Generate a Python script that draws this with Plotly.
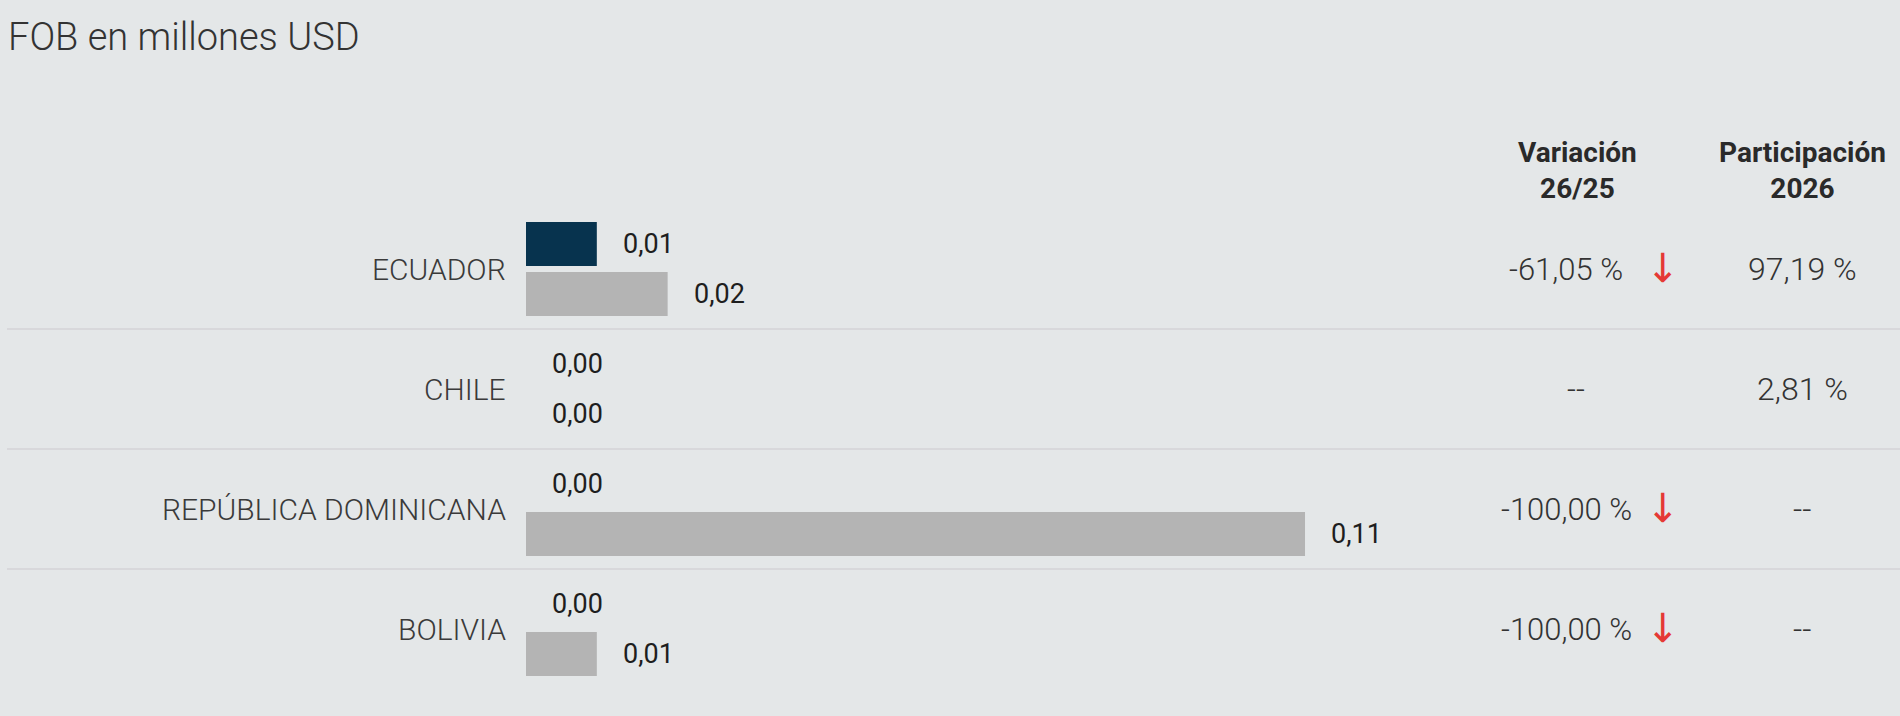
import plotly.graph_objects as go

# ---- data ----
paises = ["ECUADOR", "CHILE", "REPÚBLICA DOMINICANA", "BOLIVIA"]
fob_2026 = [0.01, 0.00, 0.00, 0.00]
fob_2025 = [0.02, 0.00, 0.11, 0.01]
variacion = ["-61,05 %", "--", "-100,00 %", "-100,00 %"]
baja = [True, False, True, True]
participacion = ["97,19 %", "2,81 %", "--", "--"]
titulo = "FOB en millones USD"
encabezado_var = ["Variación", "26/25"]
encabezado_part = ["Participación", "2026"]

# ---- layout constants (pixels) ----
W, H = 1900, 716
X0_PX = 526          # pixel where bars start
PX_PER_UNIT = 7082   # pixels per million USD
ROW0_PX = 269        # center of first row
ROW_H = 120          # row height
BAR_H = 44
BAR_GAP = 6

BG = "#e4e7e8"
C26 = "#07334e"
C25 = "#b4b4b4"
FONT = "Roboto"

xr = [-X0_PX / PX_PER_UNIT, (W - X0_PX) / PX_PER_UNIT]
yr = [(H - ROW0_PX) / ROW_H, -ROW0_PX / ROW_H]
bw = BAR_H / ROW_H
bg = BAR_GAP / 2 / ROW_H

rows = list(range(len(paises)))

fig = go.Figure()
fig.add_trace(go.Bar(orientation="h", x=fob_2026, y=rows, width=bw,
                     offset=-(bw + bg), marker=dict(color=C26, line=dict(width=0)),
                     hoverinfo="skip", name="2026"))
fig.add_trace(go.Bar(orientation="h", x=fob_2025, y=rows, width=bw,
                     offset=bg, marker=dict(color=C25, line=dict(width=0)),
                     hoverinfo="skip", name="2025"))

def fmt(v):
    return f"{v:.2f}".replace(".", ",")

ann = []
off = bg + bw / 2
for i in rows:
    # bar value labels
    ann.append(dict(x=fob_2026[i], y=i - off, xref="x", yref="y", text=fmt(fob_2026[i]),
                    xanchor="left", yanchor="middle", xshift=24, showarrow=False,
                    font=dict(family=FONT, size=27, color="#1e1e1e")))
    ann.append(dict(x=fob_2025[i], y=i + off, xref="x", yref="y", text=fmt(fob_2025[i]),
                    xanchor="left", yanchor="middle", xshift=24, showarrow=False,
                    font=dict(family=FONT, size=27, color="#1e1e1e")))
    # category labels
    ann.append(dict(x=0, y=i, xref="x", yref="y", text=paises[i], xanchor="right",
                    yanchor="middle", xshift=-18, showarrow=False,
                    font=dict(family=FONT, size=30, color="#3a3a3a", weight=300)))
    # variation
    ann.append(dict(x=(1566 if baja[i] else 1576) / W, y=i, xref="paper", yref="y",
                    text=variacion[i], xanchor="center", yanchor="middle", showarrow=False,
                    font=dict(family=FONT, size=31, color="#333333", weight=300)))
    if baja[i]:
        ann.append(dict(x=1663 / W, y=i, xref="paper", yref="y", text="↓",
                        xanchor="center", yanchor="middle", showarrow=False, yshift=1,
                        font=dict(family="DejaVu Sans", size=40, color="#e53935")))
    # participation
    ann.append(dict(x=1802 / W, y=i, xref="paper", yref="y", text=participacion[i],
                    xanchor="center", yanchor="middle", showarrow=False,
                    font=dict(family=FONT, size=32, color="#333333", weight=300)))

# headers (two-line, one text each)
ann.append(dict(x=1577 / W, y=1 - 170 / H, xref="paper", yref="paper",
                text="<b>" + "<br>".join(encabezado_var) + "</b>",
                xanchor="center", yanchor="middle", showarrow=False, align="center",
                font=dict(family=FONT, size=28, color="#2a2a2a")))
ann.append(dict(x=1802 / W, y=1 - 170 / H, xref="paper", yref="paper",
                text="<b>" + "<br>".join(encabezado_part) + "</b>",
                xanchor="center", yanchor="middle", showarrow=False, align="center",
                font=dict(family=FONT, size=28, color="#2a2a2a")))

# title
ann.append(dict(x=6 / W, y=1 - 37 / H, xref="paper", yref="paper", text=titulo,
                xanchor="left", yanchor="middle", showarrow=False,
                font=dict(family=FONT, size=38, color="#333333", weight=300)))

shapes = []
for i in rows[:-1]:
    shapes.append(dict(type="line", xref="paper", yref="y", x0=7 / W, x1=1,
                       y0=i + 0.5, y1=i + 0.5, line=dict(color="#d8d8db", width=2),
                       layer="below"))

fig.update_layout(
    width=W, height=H,
    margin=dict(l=0, r=0, t=0, b=0),
    paper_bgcolor=BG, plot_bgcolor=BG,
    showlegend=False,
    barmode="overlay",
    xaxis=dict(range=xr, visible=False, fixedrange=True),
    yaxis=dict(range=yr, visible=False, fixedrange=True),
    annotations=ann, shapes=shapes,
)

fig.write_html("out.html", config={"displayModeBar": False},
               post_script="document.body.style.margin='0';document.body.style.overflow='hidden';")
